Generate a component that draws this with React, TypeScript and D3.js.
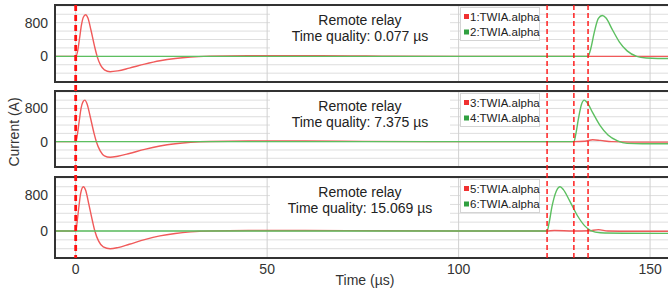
import React from 'react';
import * as d3 from 'd3';

// Signals, [time µs, current A]
const red1: [number, number][] = [
  [-5.4, 0], [0, 0], [0.5, 120], [1, 420], [1.5, 740], [2, 930], [2.6, 990], [3.2, 910], [4, 620],
  [5, 210], [5.6, 0], [6.5, -210], [7.5, -320], [9, -365], [11, -345], [14, -280], [18, -185],
  [22, -105], [26, -50], [30, -15], [35, 5], [45, 18], [60, 18], [72, 12], [80, 3], [100, 0],
  [134, 0], [155.2, 0]
];
const green1: [number, number][] = [
  [-5.4, 0], [133.8, 0], [134.5, 180], [135.5, 600], [136.5, 900], [137.5, 970], [138.5, 910],
  [140, 660], [142, 340], [144, 130], [146.5, 0], [149, -40], [152, -50], [155.2, -50]
];
const red2: [number, number][] = [
  [-5.4, 0], [0, 0], [0.4, 150], [0.9, 480], [1.4, 800], [1.9, 960], [2.4, 1000], [3, 900],
  [3.8, 600], [4.8, 200], [5.4, 0], [6.4, -220], [7.5, -340], [9, -375], [11, -350], [14, -285],
  [18, -185], [22, -105], [26, -50], [30, -15], [35, 5], [45, 15], [60, 15], [75, 8], [100, 0],
  [130, 0], [133, 10], [135, 45], [137, 30], [140, 0], [145, -10], [155.2, -10]
];
const green2: [number, number][] = [
  [-5.4, 0], [130.1, 0], [130.6, 180], [131.3, 560], [132.1, 900], [132.8, 1000], [133.5, 950],
  [135, 700], [137, 380], [139, 160], [141.5, 20], [144, -40], [148, -50], [155.2, -50]
];
const red3: [number, number][] = [
  [-5.4, 0], [0, 0], [0.3, 150], [0.8, 520], [1.3, 850], [2, 1000], [2.6, 920], [3.4, 620],
  [4.4, 220], [5, 0], [6, -230], [7.2, -360], [9, -400], [11, -375], [14, -300], [18, -195],
  [22, -110], [26, -55], [30, -20], [35, 0], [45, 10], [60, 10], [80, 5], [100, 0], [123, 0],
  [125, 10], [130, 0], [134, 5], [136.5, 30], [139, 0], [145, -5], [155.2, -5]
];
const green3: [number, number][] = [
  [-5.4, 0], [123.1, 0], [123.6, 170], [124.4, 560], [125.5, 900], [126.5, 1000], [127.4, 930],
  [129, 680], [131, 350], [133, 110], [134.5, 10], [137, -40], [143, -50], [155.2, -55]
];

const redSeries = [red1, red2, red3];
const greenSeries = [green1, green2, green3];
const timeQuality = ['0.077', '7.375', '15.069'];
const legendLabels = [
  ['1:TWIA.alpha', '2:TWIA.alpha'],
  ['3:TWIA.alpha', '4:TWIA.alpha'],
  ['5:TWIA.alpha', '6:TWIA.alpha']
];
const markerTimes = [0, 123.1, 130.1, 133.8];
const xTicks = [0, 50, 100, 150];
const yTicks = [0, 800];
const yGrid = [-600, -400, -200, 0, 200, 400, 600, 800, 1000, 1200];

const W = 668;
const H = 292;
const left = 55;
const panels = [
  { top: 5, bottom: 82 },
  { top: 91, bottom: 167 },
  { top: 177, bottom: 258 }
];
const font = 'Liberation Sans, Arial, sans-serif';

const App: React.FC = () => {
  const x = d3.scaleLinear().domain([-5.4, 155.2]).range([left, 670]);

  return (
    <svg width={W} height={H} style={{ position: 'absolute', left: 0, top: 0 }} fontFamily={font}>
      <rect width={W} height={H} fill="#fff" />
      <defs>
        {panels.map((p, i) => (
          <clipPath id={`clip${i}`} key={i}>
            <rect x={left} y={p.top} width={W} height={p.bottom - p.top} />
          </clipPath>
        ))}
      </defs>
      {panels.map((p, i) => {
        const y = d3.scaleLinear().domain([-610, 1220]).range([p.bottom, p.top]);
        const line = d3.line<[number, number]>()
          .x(d => x(d[0]))
          .y(d => y(d[1]))
          .curve(d3.curveMonotoneX);
        return (
          <g key={i}>
            {yGrid.map(v => (
              <line key={v} x1={left} x2={W} y1={y(v)} y2={y(v)} stroke="#dedede" strokeWidth={1} />
            ))}
            <rect x={270} y={p.top + 1} width={180} height={y(0) - p.top - 8} fill="#fff" />
            {xTicks.map(t => (
              <line key={t} x1={x(t)} x2={x(t)} y1={p.top} y2={p.bottom} stroke="#d0d0d0" strokeWidth={1} />
            ))}
            <g clipPath={`url(#clip${i})`}>
              <path d={line(redSeries[i]) || ''} fill="none" stroke="#f05a5a" strokeWidth={1.4} />
              <path d={line(greenSeries[i]) || ''} fill="none" stroke="#5cbf60" strokeWidth={1.4} />
            </g>
            <text x={360} y={p.top + 20} fontSize={14} textAnchor="middle" fill="#222">Remote relay</text>
            <text x={360} y={p.top + 36} fontSize={14} textAnchor="middle" fill="#222">
              {`Time quality: ${timeQuality[i]} µs`}
            </text>
            <rect x={460.5} y={p.top + 2.5} width={79} height={33} fill="#fff" stroke="#d4d4d4" />
            {legendLabels[i].map((lab, j) => (
              <g key={lab}>
                <rect x={464} y={p.top + 9 + j * 15.5} width={5} height={5} fill={j === 0 ? '#f03030' : '#30a040'} />
                <text x={470} y={p.top + 15.5 + j * 15.5} fontSize={11.5} fill="#222">{lab}</text>
              </g>
            ))}
            <rect x={left} y={p.top} width={W} height={p.bottom - p.top} fill="none" stroke="#333" strokeWidth={2} />
            {yTicks.map(v => (
              <text key={v} x={48} y={y(v)} dy="0.35em" fontSize={14} textAnchor="end" fill="#333">{v}</text>
            ))}
          </g>
        );
      })}
      {markerTimes.map((t, i) => (
        <line
          key={t}
          x1={x(t)} x2={x(t)} y1={panels[0].top} y2={panels[2].bottom}
          stroke="#ff1010"
          strokeWidth={i === 0 ? 2.8 : 1.4}
          strokeDasharray={i === 0 ? '6,4' : '5,3'}
        />
      ))}
      {xTicks.map(t => (
        <text key={t} x={x(t)} y={273.5} fontSize={14} textAnchor="middle" fill="#333">{t}</text>
      ))}
      <text x={365} y={285} fontSize={14} textAnchor="middle" fill="#333">Time (µs)</text>
      <text transform="translate(19,132) rotate(-90)" fontSize={14} textAnchor="middle" fill="#333">Current (A)</text>
    </svg>
  );
};

export default App;
